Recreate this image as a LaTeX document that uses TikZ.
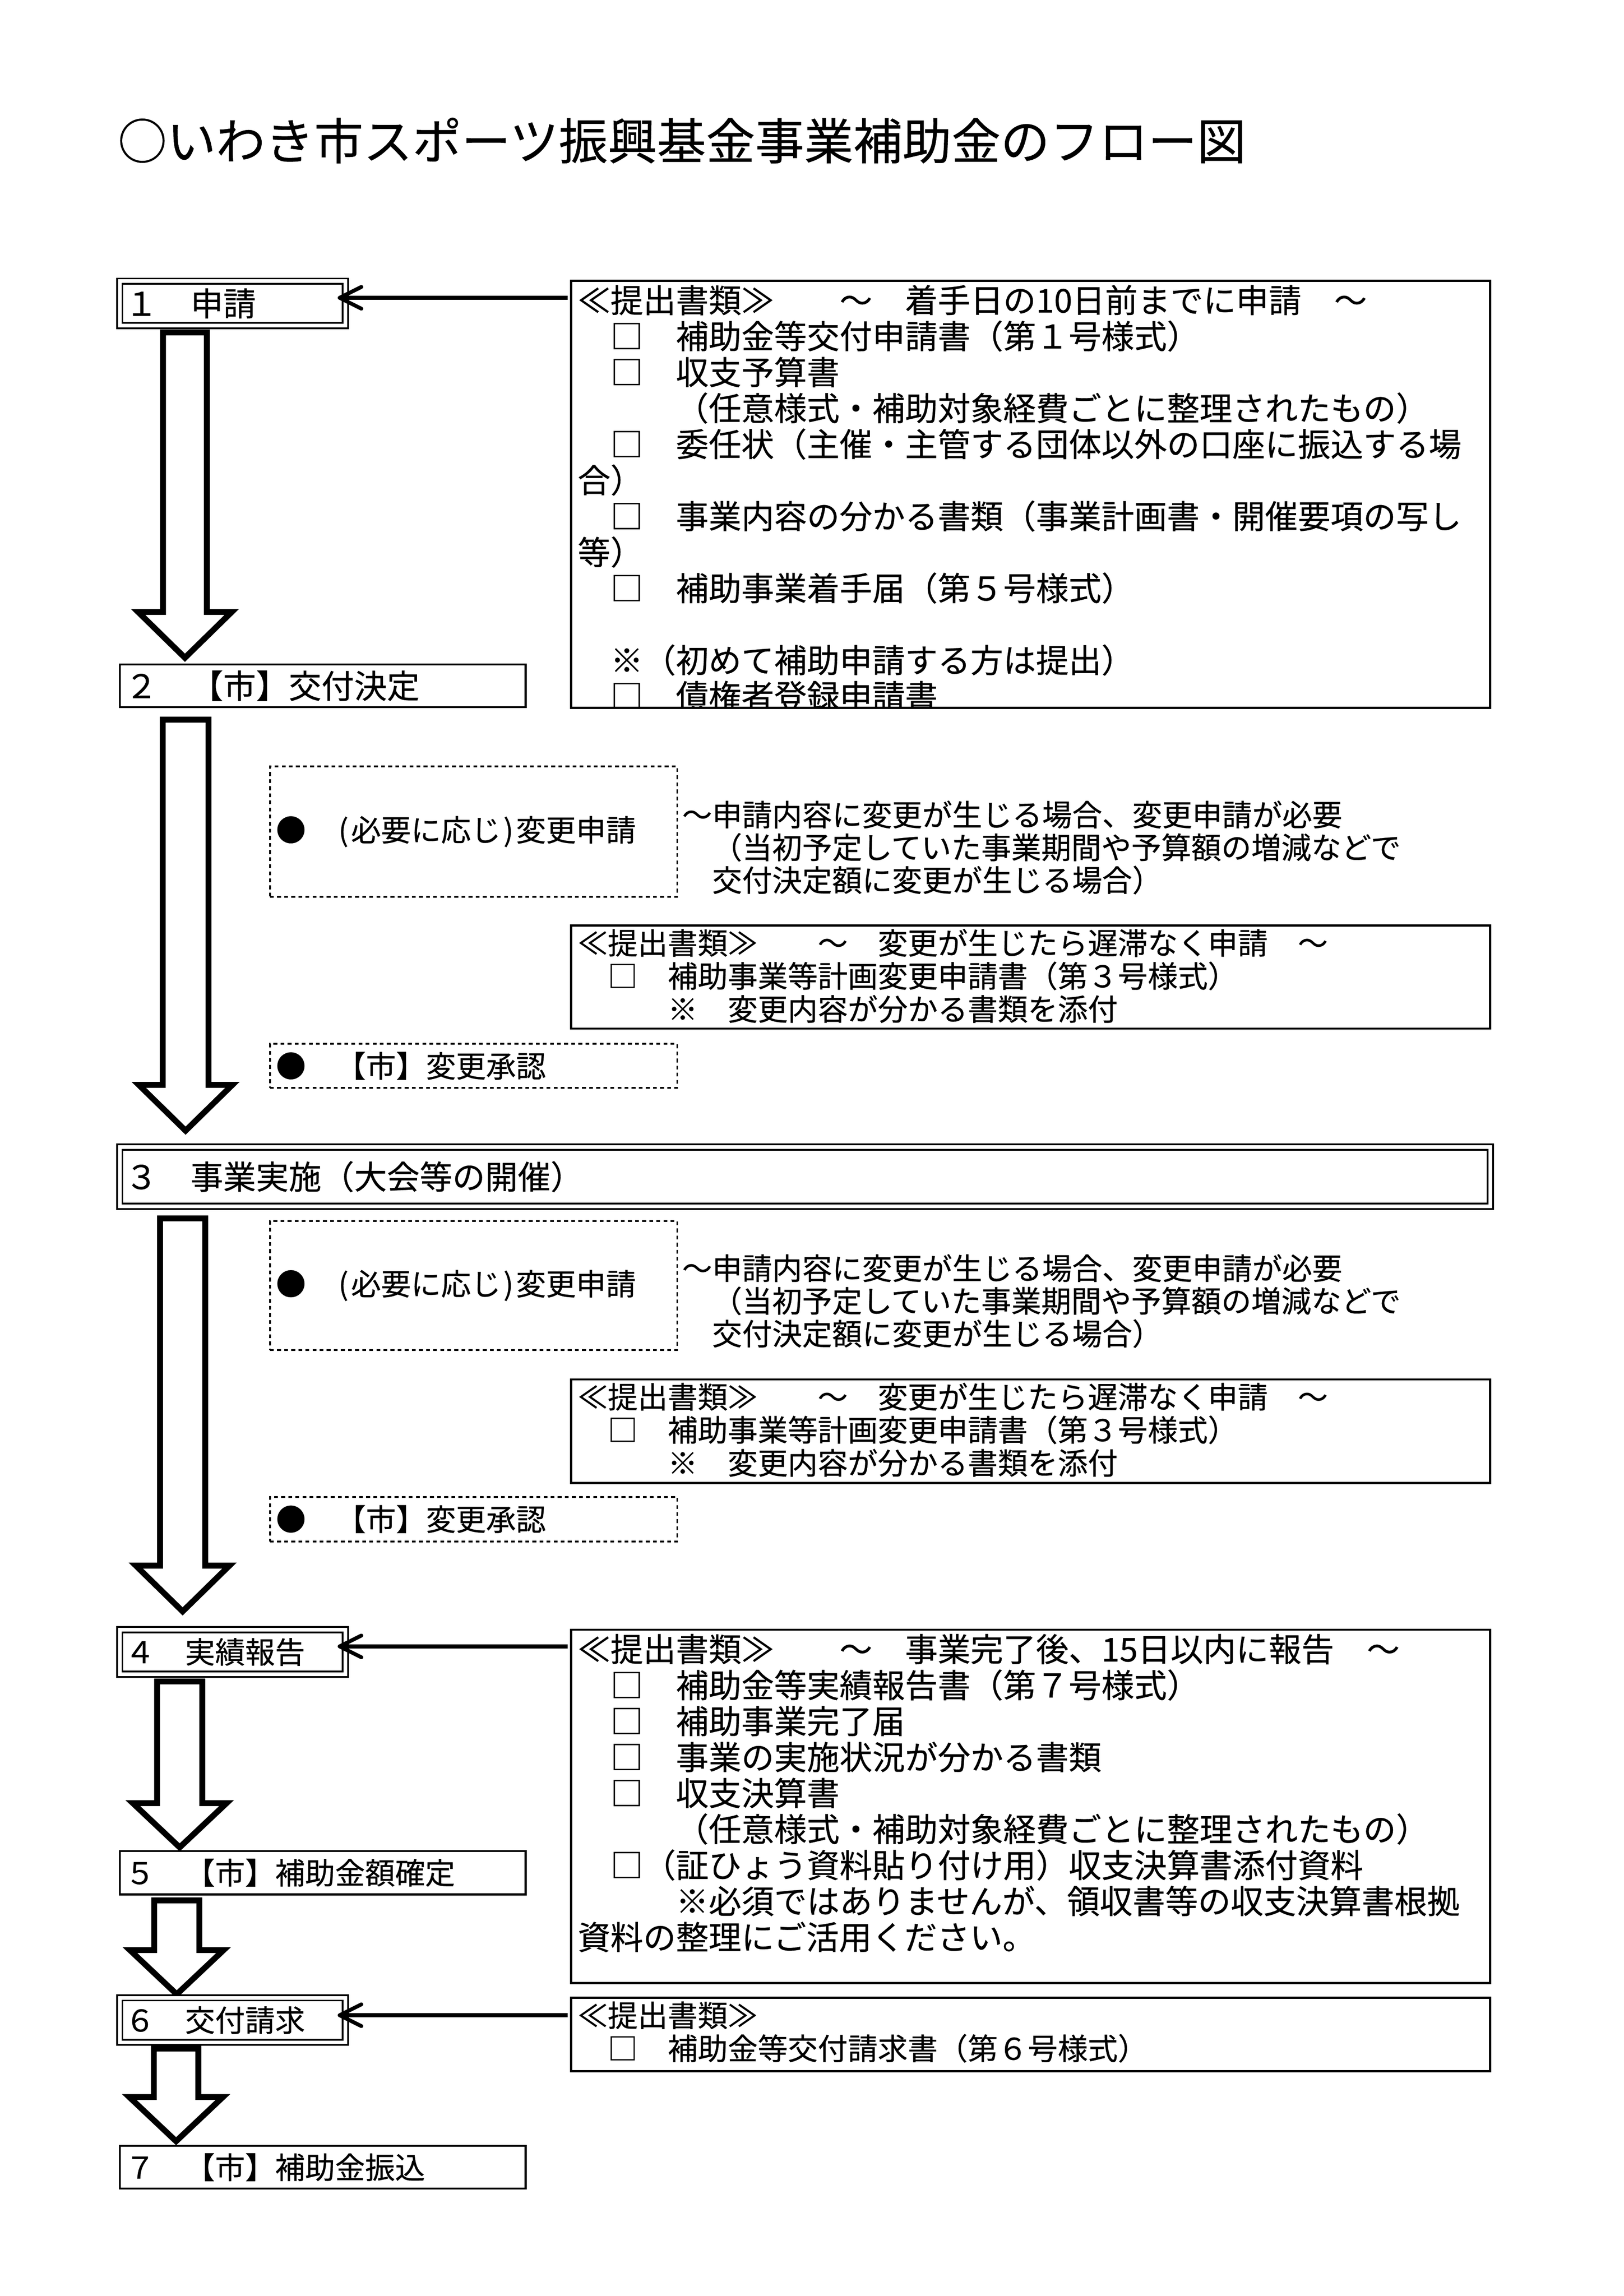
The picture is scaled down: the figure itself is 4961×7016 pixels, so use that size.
\documentclass[tikz,border=0pt]{standalone}
\usepackage{fontspec}
\setmainfont{Noto Sans CJK JP}[FakeBold=0.4]
\usetikzlibrary{arrows.meta}
\newcommand\hwp[1]{\makebox[0.5em][c]{#1}}
\newcommand\flowarrow[6]{%
  \draw[blockarrow] (#1-#2,#3) -- (#1+#2,#3) -- (#1+#2,#4) -- (#1+#5,#4) -- (#1,#6) -- (#1-#5,#4) -- (#1-#2,#4) -- cycle;}
\begin{document}
\begin{tikzpicture}[x=0.12pt,y=-0.12pt,
  f12/.style={font=\fontsize{12pt}{13pt}\selectfont},
  f11/.style={font=\fontsize{11pt}{12pt}\selectfont},
  f18/.style={font=\fontsize{18pt}{20pt}\selectfont},
  txt/.style={anchor=base west, inner sep=0pt, outer sep=0pt},
  bx/.style={draw, line width=0.72pt, outer sep=0pt, inner ysep=0pt, inner xsep=1.92pt, anchor=north west, align=left},
  dbx/.style={bx, line width=0.66pt, double, double distance=1.26pt},
  dotbox/.style={draw, line width=0.65pt, dash pattern=on 1.4pt off 1.2pt, outer sep=0pt, inner ysep=0pt, inner xsep=2.16pt, anchor=north west, align=left, minimum width=149.28pt, text width=144.96pt, f11},
  docbox/.style={draw, line width=0.8pt, outer sep=0pt, inner sep=0pt, anchor=north west, minimum width=336.96pt},
  small/.style={minimum width=82.68pt, text width=78.84pt, minimum height=16.32pt},
  wide/.style={minimum width=148.8pt, text width=144.96pt},
  blockarrow/.style={draw, line width=2.16pt, line join=miter, fill=white},
  conn/.style={line width=1.4pt, shorten <=1.2pt, shorten >=-2.8pt, -{Straight Barb[length=8pt,width=8pt,round]}}
]
\fill[white] (0,0) rectangle (4961,7016);
\useasboundingbox (0,0) rectangle (4961,7016);

% title
\node[txt, f18] (title) at (360,487) {○いわき市スポーツ振興基金事業補助金のフロー図};

% block arrows
\flowarrow{565}{67}{1016}{1870}{143}{2010}
\flowarrow{567}{70}{2199}{3315}{143}{3455}
\flowarrow{558}{69}{3723}{4784}{143}{4924}
\flowarrow{549}{69}{5138}{5510}{143}{5645}
\flowarrow{540}{69}{5807}{5959}{143}{6094}
\flowarrow{538}{68}{6260}{6408}{143}{6543}

% step boxes
\node[dbx, f12, small] (b1) at (366,859) {１　申請};
\node[bx, f12, wide, minimum height=15.72pt] (b2) at (366,2030) {２　【市】交付決定};
\node[dbx, f12, minimum width=502.44pt, text width=498.6pt, minimum height=21.72pt] (b3) at (366,3505) {３　事業実施（大会等の開催）};
\node[dbx, f11, small] (b4) at (366,4980) {４　実績報告};
\node[bx, f11, wide, minimum height=15.96pt] (b5) at (366,5656) {５　【市】補助金額確定};
\node[dbx, f11, small] (b6) at (366,6105) {６　交付請求};
\node[bx, f11, wide, minimum height=15.72pt] (b7) at (366,6557) {７　【市】補助金振込};

% dotted boxes
\node[dotbox, minimum height=47.76pt] (p1) at (825,2342) {●　\hwp{(}必要に応じ\hwp{)}変更申請};
\node[dotbox, minimum height=16.08pt] (p2) at (825,3190) {●　【市】変更承認};
\node[dotbox, minimum height=47.28pt] (p3) at (825,3731) {●　\hwp{(}必要に応じ\hwp{)}変更申請};
\node[dotbox, minimum height=16.32pt] (p4) at (825,4574) {●　【市】変更承認};

% change notes
\foreach \s [count=\i] in {～申請内容に変更が生じる場合、変更申請が必要,　（当初予定していた事業期間や予算額の増減などで,　交付決定額に変更が生じる場合）}{
  \node[txt, f11] (ca\i) at (2084,{2524+100*(\i-1)}) {\s};
  \node[txt, f11] (cb\i) at (2084,{3910+100*(\i-1)}) {\s};
}

% document boxes
\node[docbox, minimum height=156.6pt] (d1) at (1745,858) {};
\node[docbox, minimum height=37.8pt] (d2) at (1745,2828) {};
\node[docbox, minimum height=38.04pt] (d3) at (1745,4215) {};
\node[docbox, minimum height=129.6pt] (d4) at (1745,4980) {};
\node[docbox, minimum height=26.88pt] (d6) at (1745,6105) {};

\begin{scope}
\clip (d1.north west) rectangle (d1.south east);
\foreach \s [count=\i] in {≪提出書類≫　　～　着手日の10日前までに申請　～,
  　□　補助金等交付申請書（第１号様式）,
  　□　収支予算書,
  　　　（任意様式・補助対象経費ごとに整理されたもの）,
  　□　委任状（主催・主管する団体以外の口座に振込する場,
  合）,
  　□　事業内容の分かる書類（事業計画書・開催要項の写し,
  等）,
  　□　補助事業着手届（第５号様式）,
  {},
  　※（初めて補助申請する方は提出）,
  　□　債権者登録申請書}{
  \node[txt, f12] (t1l\i) at (1765,{955+110*(\i-1)}) {\s};
}
\end{scope}

\foreach \s [count=\i] in {≪提出書類≫　　～　変更が生じたら遅滞なく申請　～,
  　□　補助事業等計画変更申請書（第３号様式）,
  　　　※　変更内容が分かる書類を添付}{
  \node[txt, f11] (t2l\i) at (1765,{2916+101*(\i-1)}) {\s};
  \node[txt, f11] (t3l\i) at (1765,{4303+101*(\i-1)}) {\s};
}

\foreach \s [count=\i] in {≪提出書類≫　　～　事業完了後、15日以内に報告　～,
  　□　補助金等実績報告書（第７号様式）,
  　□　補助事業完了届,
  　□　事業の実施状況が分かる書類,
  　□　収支決算書,
  　　　（任意様式・補助対象経費ごとに整理されたもの）,
  　□（証ひょう資料貼り付け用）収支決算書添付資料,
  　　　※必須ではありませんが、領収書等の収支決算書根拠,
  資料の整理にご活用ください。}{
  \node[txt, f12] (t4l\i) at (1765,{5077+110*(\i-1)}) {\s};
}

\foreach \s [count=\i] in {≪提出書類≫,
  　□　補助金等交付請求書（第６号様式）}{
  \node[txt, f11] (t6l\i) at (1765,{6193+101*(\i-1)}) {\s};
}

% connectors
\coordinate (a1) at (0,910);
\coordinate (a4) at (0,5031);
\coordinate (a6) at (0,6158);
\draw[conn] (d1.west |- a1) -- (b1.east |- a1);
\draw[conn] (d4.west |- a4) -- (b4.east |- a4);
\draw[conn] (d6.west |- a6) -- (b6.east |- a6);
\end{tikzpicture}
\end{document}
